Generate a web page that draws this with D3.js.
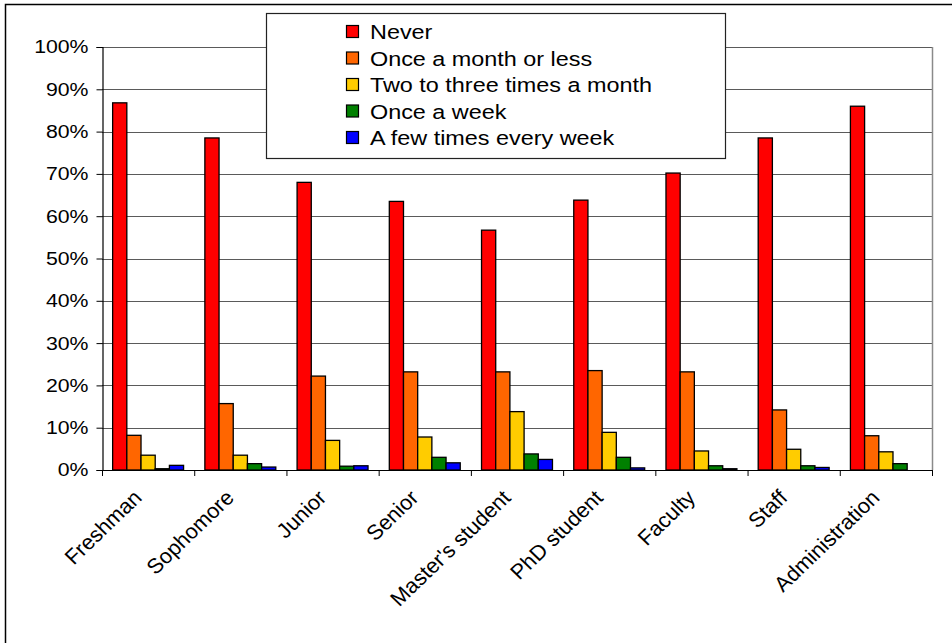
<!DOCTYPE html>
<html>
<head>
<meta charset="utf-8">
<script src="https://cdn.jsdelivr.net/npm/d3@7"></script>
<style>
  html, body { margin: 0; padding: 0; background: #fff; }
  svg { display: block; font-family: "Liberation Sans", Arial, sans-serif; }
</style>
</head>
<body>
<svg id="chart" width="952" height="643"></svg>
<script>
// ---- data ----
const categories = ["Freshman", "Sophomore", "Junior", "Senior", "Master's student", "PhD student", "Faculty", "Staff", "Administration"];
const seriesNames = ["Never", "Once a month or less", "Two to three times a month", "Once a week", "A few times every week"];
const seriesColors = ["#FF0000", "#FF6600", "#FFCC00", "#008000", "#0000FF"];
const never        = [86.8, 78.5, 68.0, 63.5, 56.7, 63.8, 70.2, 78.5, 86.0];
const onceMonth    = [8.2, 15.7, 22.2, 23.2, 23.2, 23.5, 23.2, 14.2, 8.1];
const twoThree     = [3.5, 3.5, 7.0, 7.8, 13.8, 8.9, 4.5, 4.9, 4.3];
const onceWeek     = [0.3, 1.5, 0.9, 3.0, 3.8, 3.0, 1.0, 1.0, 1.5];
const fewTimesWeek = [1.1, 0.7, 1.0, 1.7, 2.5, 0.5, 0.3, 0.6, 0.0];
const yTicks = [0, 10, 20, 30, 40, 50, 60, 70, 80, 90, 100];

const seriesValues = [never, onceMonth, twoThree, onceWeek, fewTimesWeek];

// ---- layout ----
const svg = d3.select("#chart");
const plot = { left: 102, right: 932, top: 47, bottom: 470 };
const stretch = 1.15; // horizontal text stretch of the original

// outer chart border
svg.append("rect")
  .attr("x", 5.5).attr("y", 4.5)
  .attr("width", 960).attr("height", 660)
  .attr("fill", "none").attr("stroke", "#000").attr("stroke-width", 1.5);

const y = d3.scaleLinear().domain([0, 100]).range([plot.bottom, plot.top]);
const x0 = d3.scaleBand().domain(categories).range([plot.left, plot.right])
  .paddingInner(1.5 / 6.5).paddingOuter(0.75 / 6.5);
const x1 = d3.scaleBand().domain(seriesNames).range([0, x0.bandwidth()]).padding(0);

// gridlines
svg.append("g").selectAll("line").data(yTicks.filter(d => d > 0)).join("line")
  .attr("x1", plot.left).attr("x2", plot.right)
  .attr("y1", d => Math.round(y(d)) + 0.5).attr("y2", d => Math.round(y(d)) + 0.5)
  .attr("stroke", "#5a5a5a").attr("stroke-width", 1);

// right border of plot area
svg.append("line")
  .attr("x1", plot.right + 0.5).attr("x2", plot.right + 0.5)
  .attr("y1", plot.top).attr("y2", plot.bottom)
  .attr("stroke", "#8a8a8a").attr("stroke-width", 1.5);

// bars
const groups = svg.append("g").selectAll("g").data(categories).join("g")
  .attr("transform", d => `translate(${x0(d)},0)`);
groups.selectAll("rect")
  .data((c, i) => seriesNames.map((s, j) => ({ s, j, v: seriesValues[j][i] })))
  .join("rect")
  .filter(d => d.v > 0)
  .attr("x", d => x1(d.s))
  .attr("y", d => y(d.v))
  .attr("width", x1.bandwidth())
  .attr("height", d => y(0) - y(d.v))
  .attr("fill", d => seriesColors[d.j])
  .attr("stroke", "#000").attr("stroke-width", 1.3);

// y axis
const yAxis = svg.append("g").attr("transform", `translate(${plot.left + 0.5},0)`)
  .call(d3.axisLeft(y).tickValues(yTicks).tickSize(6).tickPadding(8).tickFormat(d => d + "%"));
yAxis.select(".domain").attr("stroke", "#000").attr("stroke-width", 1.2);
yAxis.selectAll(".tick line").attr("stroke", "#000");
yAxis.selectAll(".tick text")
  .attr("font-size", 18.5).attr("fill", "#000")
  .attr("font-family", "'Liberation Sans', Arial, sans-serif")
  .attr("transform", function() {
    const xx = +d3.select(this).attr("x");
    return `translate(${xx},0) scale(${stretch},1) translate(${-xx},0)`;
  });

// x axis
const catBoundaries = d3.range(categories.length + 1).map(i => plot.left + i * x0.step());
const xAxisG = svg.append("g");
xAxisG.append("line")
  .attr("x1", plot.left).attr("x2", plot.right)
  .attr("y1", plot.bottom + 0.5).attr("y2", plot.bottom + 0.5)
  .attr("stroke", "#000").attr("stroke-width", 1.2);
xAxisG.selectAll("line.tk").data(catBoundaries).join("line").attr("class", "tk")
  .attr("x1", d => d + 0.5).attr("x2", d => d + 0.5)
  .attr("y1", plot.bottom).attr("y2", plot.bottom + 6)
  .attr("stroke", "#000");
xAxisG.selectAll("text").data(categories).join("text")
  .attr("text-anchor", "end")
  .attr("font-size", 21)
  .attr("fill", "#000")
  .attr("transform", d => `translate(${x0(d) + x0.bandwidth() / 2 - 5},${plot.bottom + 29}) scale(1.04,1) rotate(-45)`)
  .text(d => d);

// legend
const lg = { x: 266.5, y: 13.5, w: 459, h: 145 };
svg.append("rect")
  .attr("x", lg.x).attr("y", lg.y).attr("width", lg.w).attr("height", lg.h)
  .attr("fill", "#fff").attr("stroke", "#222").attr("stroke-width", 1.2);
const items = svg.append("g").selectAll("g").data(seriesNames).join("g")
  .attr("transform", (d, i) => `translate(346,${32 + i * 26.5})`);
items.append("rect")
  .attr("x", 0.5).attr("y", -6.5).attr("width", 12).attr("height", 12)
  .attr("fill", (d, i) => seriesColors[i]).attr("stroke", "#000").attr("stroke-width", 1.2);
items.append("text")
  .attr("x", 0).attr("y", 7)
  .attr("font-size", 19.5).attr("fill", "#000")
  .attr("transform", `translate(24,0) scale(1.2,1)`)
  .text(d => d);
</script>
</body>
</html>
